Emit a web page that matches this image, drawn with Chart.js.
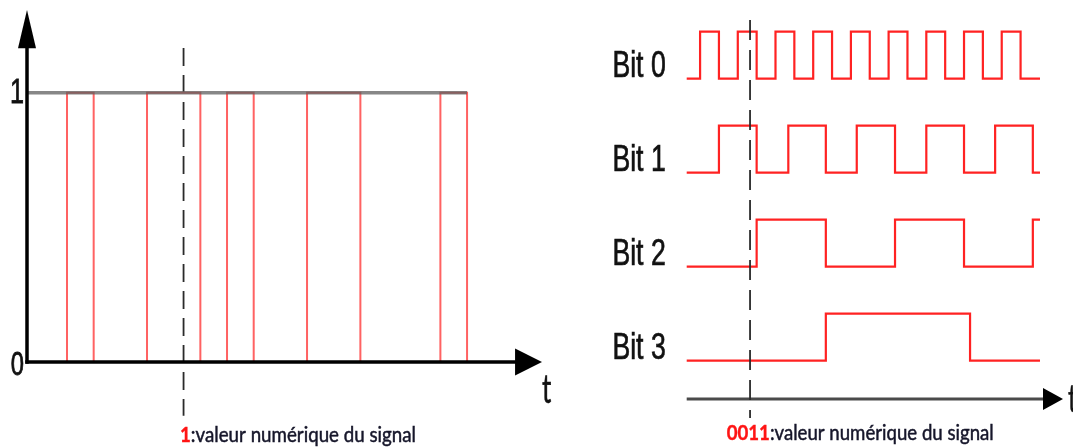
<!DOCTYPE html>
<html>
<head>
<meta charset="utf-8">
<script src="https://cdn.jsdelivr.net/npm/chart.js@4"></script>
<style>
  html, body { margin: 0; padding: 0; background: #fff; overflow: hidden; }
  #wrap { position: relative; width: 1073px; height: 448px; }
  canvas { position: absolute; top: 0; }
</style>
</head>
<body>
<div id="wrap">
  <canvas id="left" width="565" height="448" style="left:0"></canvas>
  <canvas id="right" width="508" height="448" style="left:565px"></canvas>
</div>
<script>
// signal échantillonné (à gauche) : instants des fronts et niveaux
const sigTemps   = [0, 1.5, 2.5, 4.5, 6.5, 7.5, 8.5, 10.5, 12.5, 15.5, 16.5];
const sigNiveaux = [0, 1,   0,   1,   0,   1,   0,   1,    0,    1,    0];
const niveauHaut = 1;
const finNiveauHaut = 16.5;
const instantGauche = 5.87;
const yLabelsGauche = ['0', '1'];
const legendeGauche = ['1', ':valeur numérique du signal'];

// compteur 4 bits (à droite)
const bitNames = ['Bit 0', 'Bit 1', 'Bit 2', 'Bit 3'];
const bit0T = [0.29, 1, 2, 3, 4, 5, 6, 7, 8, 9, 10, 11, 12, 13, 14, 15, 16, 17, 18, 19.03];
const bit0V = [0, 1, 0, 1, 0, 1, 0, 1, 0, 1, 0, 1, 0, 1, 0, 1, 0, 1, 0, 0];
const bit1T = [0.29, 2, 4, 5.68, 7.67, 9.31, 11.34, 13, 15, 16.65, 18.65, 19.03];
const bit1V = [0, 1, 0, 1, 0, 1, 0, 1, 0, 1, 0, 0];
const bit2T = [0.29, 4, 7.67, 11.34, 15, 18.65, 19.03];
const bit2V = [0, 1, 0, 1, 0, 1, 1];
const bit3T = [0.29, 7.67, 15.32, 19.03];
const bit3V = [0, 1, 0, 0];
const instantDroite = 3.65;
const legendeDroite = ['0011', ':valeur numérique du signal'];

const bitsT = [bit0T, bit1T, bit2T, bit3T];
const bitsV = [bit0V, bit1V, bit2V, bit3V];
const ecartLignes = 2; // une ligne par bit

function pts(ts, vs, off) {
    return ts.map((t, k) => ({x: t, y: vs[k] + off}));
}

function txt(ctx, s, x, y, font, color, sx, align, gras) {
    ctx.save();
    ctx.translate(x, y);
    ctx.scale(sx, 1);
    ctx.font = font;
    ctx.fillStyle = color;
    ctx.textAlign = align || 'left';
    ctx.textBaseline = 'alphabetic';
    ctx.fillText(s, 0, 0);
    if (gras) {
        // un peu plus épais, comme sur l'image d'origine
        ctx.strokeStyle = color;
        ctx.lineWidth = gras;
        ctx.strokeText(s, 0, 0);
    }
    ctx.restore();
}

// légende "rouge gras + texte", étirée pour tenir dans la largeur voulue
function legende(ctx, parts, x, y, largeur) {
    const fBold = 'bold 21px Lato', fNorm = '21px Lato';
    ctx.save();
    ctx.font = fBold;
    const w1 = ctx.measureText(parts[0]).width;
    ctx.font = fNorm;
    const w2 = ctx.measureText(parts[1]).width;
    ctx.restore();
    const sx = largeur / (w1 + w2);
    txt(ctx, parts[0], x, y, fBold, '#ff1414', sx, 'left', 0.4);
    txt(ctx, parts[1], x + w1 * sx, y, fNorm, '#16162a', sx, 'left', 0.5);
}

function fleche(ctx, tipX, tipY, baseX, baseY, demi) {
    const dx = tipX - baseX, dy = tipY - baseY;
    const n = Math.hypot(dx, dy);
    const px = -dy / n * demi, py = dx / n * demi;
    ctx.beginPath();
    ctx.moveTo(tipX, tipY);
    ctx.lineTo(baseX + px, baseY + py);
    ctx.lineTo(baseX - px, baseY - py);
    ctx.closePath();
    ctx.fill();
}

const decorGauche = {
    id: 'decorGauche',
    afterDatasetsDraw(chart) {
        const {ctx, scales: {x, y}} = chart;
        const x0 = x.getPixelForValue(0), y0 = y.getPixelForValue(0);
        ctx.save();
        ctx.strokeStyle = '#000';
        ctx.fillStyle = '#000';
        ctx.lineWidth = 3.5;
        ctx.beginPath();
        ctx.moveTo(x0, y0 + 1.7);
        ctx.lineTo(x0, y.getPixelForValue(1.2));
        ctx.stroke();
        fleche(ctx, x0, y.getPixelForValue(1.307), x0, y.getPixelForValue(1.165), 9);
        ctx.beginPath();
        ctx.moveTo(x0 - 1.7, y0);
        ctx.lineTo(x.getPixelForValue(18.5), y0);
        ctx.stroke();
        fleche(ctx, x.getPixelForValue(19.31), y0, x.getPixelForValue(18.3), y0, 13.5);
        ctx.restore();

        txt(ctx, yLabelsGauche[1], x0 - 3, y.getPixelForValue(1) + 10.5, '35px "Liberation Sans"', '#111', 0.72, 'right', 0.8);
        txt(ctx, yLabelsGauche[0], x0 - 3, y0 + 12.5, '33px "Liberation Sans"', '#111', 0.72, 'right', 0.8);
        txt(ctx, 't', x.getPixelForValue(19.31), 403, '40px Lato', '#111', 0.65, 'left', 0.6);
        legende(ctx, legendeGauche, 180, 442, 236);
    }
};

const decorDroite = {
    id: 'decorDroite',
    beforeDatasetsDraw(chart) {
        const {ctx, scales: {x, y}} = chart;
        const ya = y.getPixelForValue(-0.815);
        ctx.save();
        ctx.strokeStyle = '#4a4a4a';
        ctx.lineWidth = 3;
        ctx.beginPath();
        ctx.moveTo(x.getPixelForValue(0.29), ya);
        ctx.lineTo(x.getPixelForValue(19.4), ya);
        ctx.stroke();
        ctx.fillStyle = '#000';
        fleche(ctx, x.getPixelForValue(20.25), ya, x.getPixelForValue(19.19), ya, 11);
        ctx.restore();
    },
    afterDatasetsDraw(chart) {
        const {ctx, scales: {x, y}} = chart;
        const xl = x.getPixelForValue(0.29) - 21;
        bitNames.forEach((nom, i) => {
            const base = (bitNames.length - 1 - i) * ecartLignes;
            txt(ctx, nom, xl, y.getPixelForValue(base) - 2, '37px "Liberation Sans"', '#111', 0.72, 'right', 0.7);
        });
        txt(ctx, 't', 503, 412, '38px Lato', '#111', 0.65, 'left', 0.6);
        legende(ctx, legendeDroite, 161.7, 440, 267);
    }
};

const communs = {
    responsive: false,
    animation: false,
    events: [],
    datasets: {line: {pointRadius: 0, clip: false, fill: false, tension: 0}},
    plugins: {legend: {display: false}, tooltip: {enabled: false}}
};

new Chart(document.getElementById('left'), {
    type: 'line',
    data: {
        datasets: [{
            data: [{x: 0, y: niveauHaut}, {x: finNiveauHaut, y: niveauHaut}],
            borderColor: 'rgba(95,95,95,0.75)',
            borderWidth: 3.5
        }, {
            data: pts(sigTemps, sigNiveaux, 0),
            borderColor: '#ff6262',
            borderWidth: 2,
            stepped: true
        }, {
            data: [{x: instantGauche, y: 1.166}, {x: instantGauche, y: -0.2}],
            borderColor: '#2a2a2a',
            borderWidth: 1.8,
            borderDash: [18, 9]
        }]
    },
    options: Object.assign({}, communs, {
        layout: {padding: {left: 27, right: 23, top: 10, bottom: 86}},
        scales: {
            x: {type: 'linear', display: false, min: 0, max: 19.31},
            y: {type: 'linear', display: false, min: 0, max: 1.307}
        }
    }),
    plugins: [decorGauche]
});

const bitSets = bitsT.map((ts, i) => ({
    data: pts(ts, bitsV[i], (bitsT.length - 1 - i) * ecartLignes),
    borderColor: '#ff2222',
    borderWidth: 2.2,
    stepped: true
}));

new Chart(document.getElementById('right'), {
    type: 'line',
    data: {
        datasets: [{
            data: [{x: instantDroite, y: 7.25}, {x: instantDroite, y: -1.22}],
            borderColor: '#2a2a2a',
            borderWidth: 1.8,
            borderDash: [20, 10]
        }].concat(bitSets)
    },
    options: Object.assign({}, communs, {
        layout: {padding: {left: 121.7, right: 10, top: 10, bottom: 8}},
        scales: {
            x: {type: 'linear', display: false, min: 0.29, max: 20.25},
            y: {type: 'linear', display: false, min: -1.687, max: 7.462}
        }
    }),
    plugins: [decorDroite]
});
</script>
</body>
</html>
